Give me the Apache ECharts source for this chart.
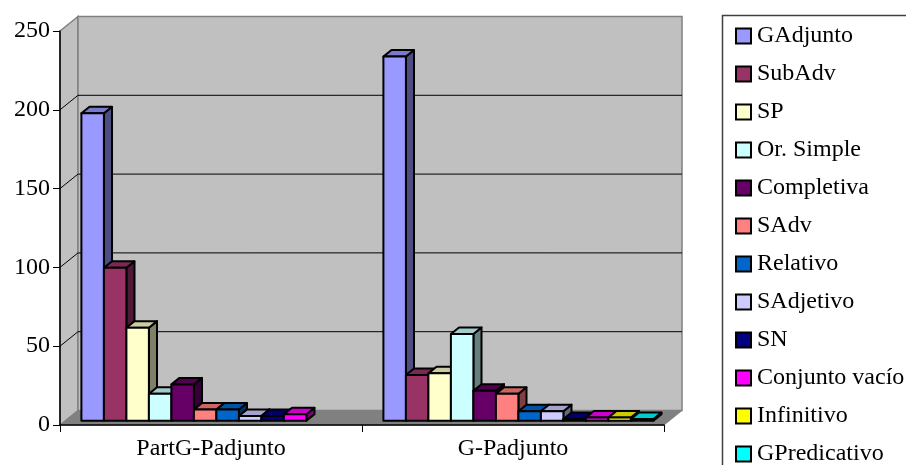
<!DOCTYPE html>
<html>
<head>
<meta charset="utf-8">
<script src="https://cdn.jsdelivr.net/npm/echarts@6/dist/echarts.min.js"></script>
<style>
  html, body { margin: 0; padding: 0; background: #fff; }
  #chart { width: 906px; height: 465px; }
</style>
</head>
<body>
<div id="chart"></div>
<script>
// Categories on the horizontal axis
const categories = ['PartG-Padjunto', 'G-Padjunto'];

// Series names (legend order) and their fill colours
const seriesNames = ['GAdjunto', 'SubAdv', 'SP', 'Or. Simple', 'Completiva', 'SAdv',
  'Relativo', 'SAdjetivo', 'SN', 'Conjunto vacío', 'Infinitivo', 'GPredicativo'];
const seriesColors = ['#9999FF', '#993366', '#FFFFCC', '#CCFFFF', '#660066', '#FF8080',
  '#0066CC', '#CCCCFF', '#000080', '#FF00FF', '#FFFF00', '#00FFFF'];

// Values per series: [PartG-Padjunto, G-Padjunto]
const gAdjunto      = [195, 231];
const subAdv        = [97, 29];
const sp            = [59, 30];
const orSimple      = [17, 55];
const completiva    = [23, 19];
const sAdv          = [7, 17];
const relativo      = [7, 6];
const sAdjetivo     = [3, 6];
const sn            = [3, 1];
const conjuntoVacio = [4, 2];
const infinitivo    = [0, 2];
const gPredicativo  = [0, 1];

const seriesValues = [gAdjunto, subAdv, sp, orSimple, completiva, sAdv,
  relativo, sAdjetivo, sn, conjuntoVacio, infinitivo, gPredicativo];

// Value axis ticks
const yTicks = [0, 50, 100, 150, 200, 250];

// 3D look: depth offset of the back wall and the slab the bars occupy
const DX = 18, DY = -14.5;
const F0 = 0.3, F1 = 0.75;
const GROUP_FRAC = 0.894;
const FONT = "'Liberation Serif', 'Times New Roman', serif";

function shade(hex, k) {
  const n = parseInt(hex.slice(1), 16);
  const r = Math.round(((n >> 16) & 255) * k);
  const g = Math.round(((n >> 8) & 255) * k);
  const b = Math.round((n & 255) * k);
  return 'rgb(' + r + ',' + g + ',' + b + ')';
}

function barRenderer(idx) {
  const color = seriesColors[idx];
  const n = seriesNames.length;
  return function (params, api) {
    const cat = api.value(0);
    const v = api.value(1);
    if (!v) return null;
    const band = api.size([1, 0])[0];
    const base = api.coord([cat, 0]);
    const top = api.coord([cat, v]);
    const groupW = band * GROUP_FRAC;
    const bw = groupW / n;
    const x0 = base[0] - groupW / 2 + idx * bw + DX * F0;
    const x1 = x0 + bw;
    const yb = base[1] + DY * F0;
    const yt = top[1] + DY * F0;
    const ddx = DX * (F1 - F0), ddy = DY * (F1 - F0);
    const edge = { stroke: '#000', lineWidth: 2, lineJoin: 'round' };
    return {
      type: 'group',
      children: [
        { type: 'polygon', shape: { points: [[x1, yt], [x1 + ddx, yt + ddy], [x1 + ddx, yb + ddy], [x1, yb]] },
          style: Object.assign({ fill: shade(color, 0.5) }, edge) },
        { type: 'polygon', shape: { points: [[x0, yt], [x1, yt], [x1 + ddx, yt + ddy], [x0 + ddx, yt + ddy]] },
          style: Object.assign({ fill: shade(color, 0.8) }, edge) },
        { type: 'rect', shape: { x: x0, y: yt, width: bw, height: yb - yt },
          style: Object.assign({ fill: color }, edge) }
      ]
    };
  };
}

function renderWalls(params, api) {
  const band = api.size([1, 0])[0];
  const c0 = api.coord([0, 0]);
  const c1 = api.coord([categories.length - 1, 0]);
  const xL = c0[0] - band / 2, xR = c1[0] + band / 2;
  const yB = c0[1];
  const yT = api.coord([0, yTicks[yTicks.length - 1]])[1];
  const children = [
    { type: 'polygon', shape: { points: [[xL, yB], [xR, yB], [xR + DX, yB + DY], [xL + DX, yB + DY]] },
      style: { fill: '#808080', stroke: '#808080', lineWidth: 1 } },
    { type: 'polygon', shape: { points: [[xL, yT], [xL + DX, yT + DY], [xL + DX, yB + DY], [xL, yB]] },
      style: { fill: '#C0C0C0', stroke: '#808080', lineWidth: 1.5 } },
    { type: 'rect', shape: { x: xL + DX, y: yT + DY, width: xR - xL, height: yB - yT },
      style: { fill: '#C0C0C0', stroke: '#808080', lineWidth: 1.5 } }
  ];
  yTicks.slice(1, -1).forEach(function (t) {
    const y = api.coord([0, t])[1];
    children.push({ type: 'polyline',
      shape: { points: [[xL, y], [xL + DX, y + DY], [xR + DX, y + DY]] },
      style: { fill: 'none', stroke: '#000', lineWidth: 1 } });
  });
  return { type: 'group', children: children };
}

const series = [{
  type: 'custom',
  name: 'walls',
  z: 1,
  silent: true,
  renderItem: renderWalls,
  data: [[0, 0]]
}];
seriesNames.forEach(function (name, i) {
  series.push({
    type: 'custom',
    name: name,
    z: 2,
    itemStyle: { color: seriesColors[i] },
    renderItem: barRenderer(i),
    data: categories.map(function (c, ci) { return [ci, seriesValues[i][ci]]; })
  });
});

const chart = echarts.init(document.getElementById('chart'), null, { renderer: 'canvas' });
chart.setOption({
  animation: false,
  backgroundColor: '#fff',
  textStyle: { fontFamily: FONT },
  grid: { left: 60, top: 31, width: 604, height: 394 },
  xAxis: {
    type: 'category',
    data: categories,
    z: 10,
    axisLine: { lineStyle: { color: '#000', width: 1.5 } },
    axisTick: { show: true, length: 7, lineStyle: { color: '#000', width: 1 } },
    axisLabel: { color: '#000', fontSize: 24, fontFamily: FONT, margin: 12 },
    splitLine: { show: false }
  },
  yAxis: {
    type: 'value',
    min: 0, max: 250, interval: 50,
    z: 10,
    axisLine: { show: true, lineStyle: { color: '#000', width: 1.5 } },
    axisTick: { show: true, length: 7, lineStyle: { color: '#000', width: 1 } },
    axisLabel: { color: '#000', fontSize: 24, fontFamily: FONT, margin: 10 },
    splitLine: { show: false }
  },
  legend: {
    orient: 'vertical',
    left: 735,
    top: 24,
    width: 200,
    height: 600,
    padding: 0,
    itemGap: 14,
    itemWidth: 15,
    itemHeight: 15,
    itemStyle: { borderColor: '#000', borderWidth: 2 },
    icon: 'rect',
    data: seriesNames,
    textStyle: { color: '#000', fontSize: 24, fontFamily: FONT, padding: [0, 0, 0, 1] }
  },
  graphic: [{
    type: 'rect',
    left: 720, top: 13,
    shape: { width: 240, height: 500 },
    style: { fill: 'none', stroke: '#404040', lineWidth: 1.5 },
    z: -1
  }],
  series: series
});
</script>
</body>
</html>
